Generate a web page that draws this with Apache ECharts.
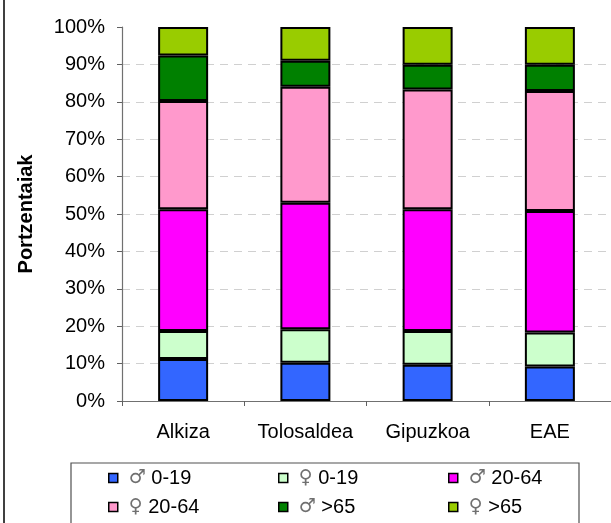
<!DOCTYPE html>
<html>
<head>
<meta charset="utf-8">
<script src="https://cdn.jsdelivr.net/npm/echarts@6/dist/echarts.min.js"></script>
<style>
  html, body { margin: 0; padding: 0; background: #fff; }
  #chart { width: 611px; height: 523px; }
</style>
</head>
<body>
<div id="chart"></div>
<script>
  var categories = ['Alkiza', 'Tolosaldea', 'Gipuzkoa', 'EAE'];
  var yTicks = [0, 10, 20, 30, 40, 50, 60, 70, 80, 90, 100];

  // Portzentaiak (stacked, sum = 100)
  var m0_19  = [11.2, 10.2, 9.7, 9.2];
  var f0_19  = [7.5, 9.0, 9.0, 9.1];
  var m20_64 = [32.6, 33.8, 32.6, 32.5];
  var f20_64 = [28.9, 31.0, 32.0, 32.1];
  var m65    = [12.2, 7.0, 6.6, 7.0];
  var f65    = [7.6, 9.0, 10.1, 10.1];

  var names  = ['♂ 0-19', '♀ 0-19', '♂ 20-64', '♀ 20-64', '♂ >65', '♀ >65'];
  var colors = ['#3366FF', '#CCFFCC', '#FF00FF', '#FF99CC', '#008000', '#99CC00'];
  var values = [m0_19, f0_19, m20_64, f20_64, m65, f65];

  var font = 'Liberation Sans, Arial, sans-serif';

  var series = [];
  for (var i = 0; i < names.length; i++) {
      series.push({
          name: names[i],
          type: 'bar',
          stack: 'total',
          barWidth: 50,
          data: values[i],
          itemStyle: { color: colors[i], borderColor: '#000', borderWidth: 2 }
      });
  }

  // hide the grid line at 100%
  var gridColors = yTicks.map(function (t) { return t === 100 ? 'rgba(0,0,0,0)' : '#D0D0D0'; });

  function legendAt(left, data) {
      return {
          orient: 'vertical',
          left: left,
          top: 468,
          padding: 0,
          itemGap: 9,
          itemWidth: 9,
          itemHeight: 9,
          data: data,
          icon: 'rect',
          itemStyle: { borderColor: '#000', borderWidth: 1.5 },
          formatter: function (name) {
              return '{s|' + name.charAt(0) + '} ' + name.slice(2);
          },
          textStyle: {
              fontFamily: font,
              fontSize: 20,
              color: '#000',
              rich: {
                  s: { fontFamily: 'DejaVu Sans', fontSize: 19, color: '#707070', padding: [0, 0, 0, 6] }
              }
          }
      };
  }

  var myChart = echarts.init(document.getElementById('chart'));
  var option = {
      animation: false,
      backgroundColor: '#fff',
      grid: { left: 122, right: -1, top: 27, bottom: 122 },
      legend: [
          legendAt(108, [names[0], names[3]]),
          legendAt(278, [names[1], names[4]]),
          legendAt(448, [names[2], names[5]])
      ],
      graphic: [
          { type: 'rect', shape: { x: 71, y: 463, width: 508, height: 70 },
            style: { fill: 'none', stroke: '#505050', lineWidth: 1.2 }, z: -1 },
          { type: 'line', shape: { x1: 4, y1: 0, x2: 4, y2: 523 },
            style: { stroke: '#404040', lineWidth: 2 } }
      ],
      xAxis: {
          type: 'category',
          data: categories,
          axisLine: { lineStyle: { color: '#707070', width: 1.2 } },
          axisTick: { show: true, length: 5, lineStyle: { color: '#606060' } },
          axisLabel: { interval: 0, fontFamily: font, fontSize: 20, color: '#000', margin: 21 }
      },
      yAxis: {
          type: 'value',
          min: 0,
          max: 100,
          interval: 10,
          name: 'Portzentaiak',
          nameLocation: 'middle',
          nameGap: 86,
          nameTextStyle: { fontFamily: font, fontSize: 20, fontWeight: 'bold', color: '#000' },
          axisLine: { show: true, lineStyle: { color: '#707070', width: 1.2 } },
          axisTick: { show: true, length: 5, lineStyle: { color: '#606060' } },
          axisLabel: {
              fontFamily: font, fontSize: 20, color: '#000', margin: 17,
              formatter: '{value}%'
          },
          splitLine: { show: true, lineStyle: { color: gridColors, type: [8, 6], width: 1.2 } }
      },
      series: series
  };
  myChart.setOption(option, true);
</script>
</body>
</html>
